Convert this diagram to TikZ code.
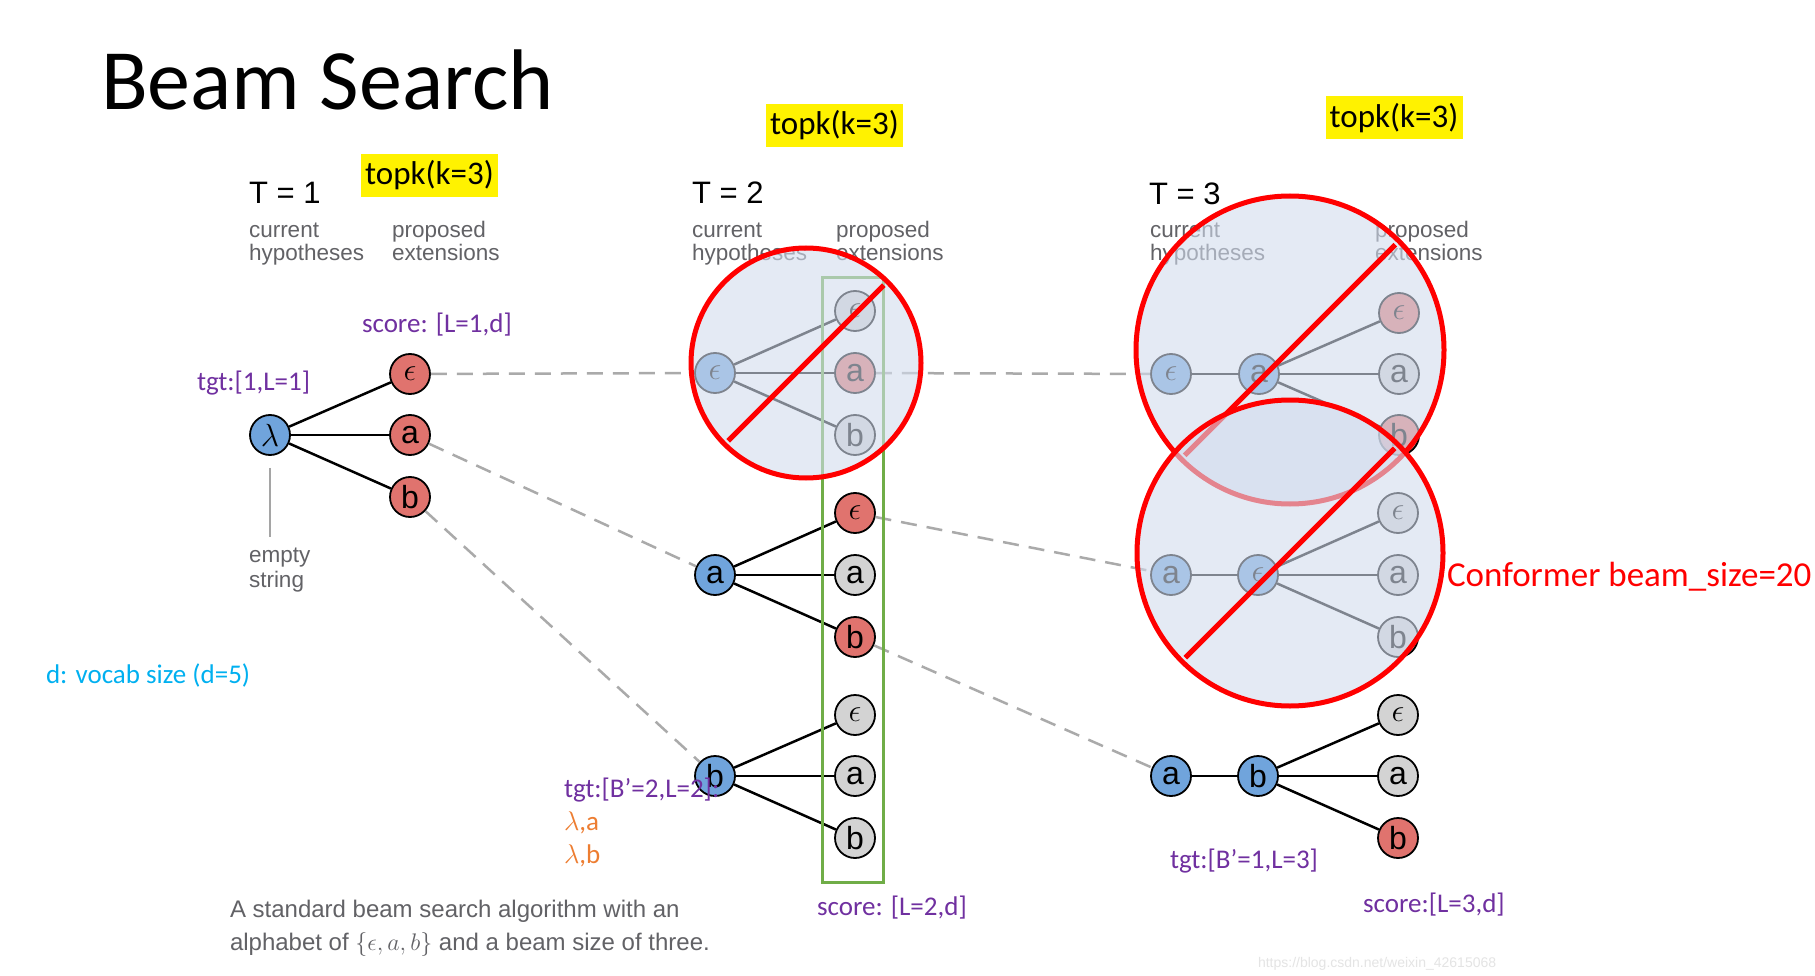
\documentclass[tikz,border=0pt]{standalone}
\usepackage{fix-cm}
\usepackage{fontspec}
\setmainfont{Carlito}
\newfontfamily\hel{Liberation Sans}
\newcommand\myfs[1]{\fontsize{#1}{#1}\selectfont}
\definecolor{nblue}{RGB}{112,164,220}
\definecolor{nred}{RGB}{224,115,110}
\definecolor{ngray}{RGB}{211,211,211}
\definecolor{purp}{RGB}{112,48,160}
\definecolor{orng}{RGB}{237,125,49}
\definecolor{cyn}{RGB}{0,176,240}
\definecolor{grn}{RGB}{112,173,71}
\definecolor{dgray}{RGB}{170,170,170}
\definecolor{tgray}{RGB}{98,98,102}
\definecolor{cfill}{RGB}{210,220,238}
\definecolor{wmark}{RGB}{228,228,228}
\definecolor{pgray}{RGB}{165,165,165}
\tikzset{
  lbl/.style={anchor=base west, inner sep=0pt, outer sep=0pt},
  purplbl/.style={lbl, text=purp, font=\myfs{27}},
  hdr/.style={lbl, font=\hel\myfs{31}},
  sublbl/.style={lbl, text=tgray, font=\hel\myfs{22.5}},
  topk/.style={fill=yellow, minimum width=137pt, minimum height=43pt, inner sep=0pt, font=\myfs{33}},
  nd/.style={circle, draw=black, line width=1.8pt, minimum size=40pt, inner sep=0pt, font=\hel\myfs{32}},
  bl/.style={nd, fill=nblue},
  rd/.style={nd, fill=nred},
  gy/.style={nd, fill=ngray},
  edge/.style={line width=2.5pt, black},
  dline/.style={line width=2.5pt, dgray, dash pattern=on 16pt off 10pt},
  bigc/.style={fill=cfill, fill opacity=0.6, draw=red, line width=5pt},
  slash/.style={draw=red, line width=5pt},
}
\begin{document}
\begin{tikzpicture}[x=1pt,y=-1pt]
\useasboundingbox (0,0) rectangle (1815,976);
\fill[white] (0,0) rectangle (1815,976);

% title and headers
\node[lbl, font=\myfs{86}] (title) at (101,110) {Beam Search};
\node[topk] (tk1) at (429.5,175.5) {topk(k=3)};
\node[topk] (tk2) at (834.5,125.5) {topk(k=3)};
\node[topk] (tk3) at (1394,118) {topk(k=3)};

\node[hdr] (T1) at (249,204) {T = 1};
\node[hdr] (T2) at (692,204) {T = 2};
\node[hdr] (T3) at (1149,205) {T = 3};
\node[sublbl] (c1a) at (249,238) {current};
\node[sublbl] (c1b) at (249,261) {hypotheses};
\node[sublbl] (p1a) at (392,238) {proposed};
\node[sublbl] (p1b) at (392,261) {extensions};
\node[sublbl] (c2a) at (692,238) {current};
\node[sublbl] (c2b) at (692,261) {hypotheses};
\node[sublbl] (p2a) at (836,238) {proposed};
\node[sublbl] (p2b) at (836,261) {extensions};
\node[sublbl] (c3a) at (1150,238) {current};
\node[sublbl] (c3b) at (1150,261) {hypotheses};
\node[sublbl] (p3a) at (1375,238) {proposed};
\node[sublbl] (p3b) at (1375,261) {extensions};

% T = 1
\node[bl] (lam) at (270,435) {$\lambda$};
\node[rd] (t1e) at (410,374) {$\epsilon$};
\node[rd] (t1a) at (410,435) {a};
\node[rd] (t1b) at (410,497) {b};
\node[sublbl] (emp1) at (249,562) {empty};
\node[sublbl] (emp2) at (249,587) {string};
\coordinate (ptrend) at (270,537);
\draw[line width=2.5pt, pgray] ([yshift=-12pt]lam.south) -- (ptrend);
\draw[edge] (lam) -- (t1e);
\draw[edge] (lam) -- (t1a);
\draw[edge] (lam) -- (t1b);

% T = 2
\node[bl] (h2e) at (715,373) {$\epsilon$};
\node[bl] (h2a) at (715,575) {a};
\node[bl] (h2b) at (715,776) {b};
\node[gy] (x2ee) at (855,311) {$\epsilon$};
\node[rd] (x2ea) at (855,373) {a};
\node[gy] (x2eb) at (855,435) {b};
\node[rd] (x2ae) at (855,513) {$\epsilon$};
\node[gy] (x2aa) at (855,575) {a};
\node[rd] (x2ab) at (855,637) {b};
\node[gy] (x2be) at (855,715) {$\epsilon$};
\node[gy] (x2ba) at (855,776) {a};
\node[gy] (x2bb) at (855,838) {b};
\foreach \h/\x in {h2e/x2ee,h2e/x2ea,h2e/x2eb,h2a/x2ae,h2a/x2aa,h2a/x2ab,h2b/x2be,h2b/x2ba,h2b/x2bb}
  \draw[edge] (\h) -- (\x);

% T = 3
\node[bl] (h3e1) at (1171,374) {$\epsilon$};
\node[bl] (h3a1) at (1259,374) {a};
\node[rd] (x3e1) at (1399,313) {$\epsilon$};
\node[gy] (x3a1) at (1399,374) {a};
\node[rd] (x3b1) at (1399,435) {b};
\node[bl] (h3a2) at (1171,575) {a};
\node[bl] (h3e2) at (1258,575) {$\epsilon$};
\node[gy] (x3e2) at (1398,513) {$\epsilon$};
\node[gy] (x3a2) at (1398,575) {a};
\node[gy] (x3b2) at (1398,637) {b};
\node[bl] (h3a3) at (1171,776) {a};
\node[bl] (h3b3) at (1258,776) {b};
\node[gy] (x3e3) at (1398,715) {$\epsilon$};
\node[gy] (x3a3) at (1398,776) {a};
\node[rd] (x3b3) at (1398,838) {b};
\draw[edge] (h3e1) -- (h3a1);
\draw[edge] (h3a2) -- (h3e2);
\draw[edge] (h3a3) -- (h3b3);
\foreach \h/\x in {h3a1/x3e1,h3a1/x3a1,h3a1/x3b1,h3e2/x3e2,h3e2/x3a2,h3e2/x3b2,h3b3/x3e3,h3b3/x3a3,h3b3/x3b3}
  \draw[edge] (\h) -- (\x);

% dashed links
\draw[dline] (t1e) -- (h2e);
\draw[dline] (t1a) -- (h2a);
\draw[dline] (t1b) -- (h2b);
\draw[dline] (x2ea) -- (h3e1);
\draw[dline] (x2ae) -- (h3a2);
\draw[dline] (x2ab) -- (h3a3);

% green selection box
\draw[grn, line width=3pt] (822,278) rectangle (883,882);

% crossed-out circles
\coordinate (C2) at (806,363);
\path[bigc] (C2) circle[radius=115pt];
\draw[slash] ([shift={(45:110pt)}]C2) -- ([shift={(225:110pt)}]C2);
\coordinate (C31) at (1290,350);
\path[bigc] (C31) circle[radius=154pt];
\draw[slash] ([shift={(45:149pt)}]C31) -- ([shift={(225:149pt)}]C31);
\coordinate (C32) at (1290,553);
\path[bigc] (C32) circle[radius=153pt];
\draw[slash] ([shift={(45:148pt)}]C32) -- ([shift={(225:148pt)}]C32);

% labels
\node[purplbl] (sc1) at (362,333) {score: [L=1,d]};
\node[purplbl] (tg1) at (197,390) {tgt:[1,L=1]};
\node[purplbl] (tg2) at (564,797) {tgt:[B’=2,L=2]:};
\node[lbl, text=orng, font=\myfs{27}] (la) at (564,830) {$\lambda$,a};
\node[lbl, text=orng, font=\myfs{27}] (lb) at (564,863) {$\lambda$,b};
\node[purplbl] (sc2) at (817,915) {score: [L=2,d]};
\node[purplbl] (tg3) at (1170,868) {tgt:[B’=1,L=3]};
\node[purplbl] (sc3) at (1363,912) {score:[L=3,d]};
\node[lbl, text=cyn, font=\myfs{27}] (voc) at (46,683) {d: vocab size (d=5)};
\node[lbl, text=red, font=\myfs{35}] (conf) at (1447,586) {Conformer beam\_size=20};

% caption
\node[lbl, text=tgray, font=\hel\myfs{24}] (cap1) at (230,917) {A standard beam search algorithm with an};
\node[lbl, text=tgray, font=\hel\myfs{24}] (cap2) at (230,950) {alphabet of $\{\epsilon, a, b\}$ and a beam size of three.};
\node[lbl, text=wmark, font=\hel\myfs{14}] (wm) at (1258,967) {https://blog.csdn.net/weixin\_42615068};
\end{tikzpicture}
\end{document}
